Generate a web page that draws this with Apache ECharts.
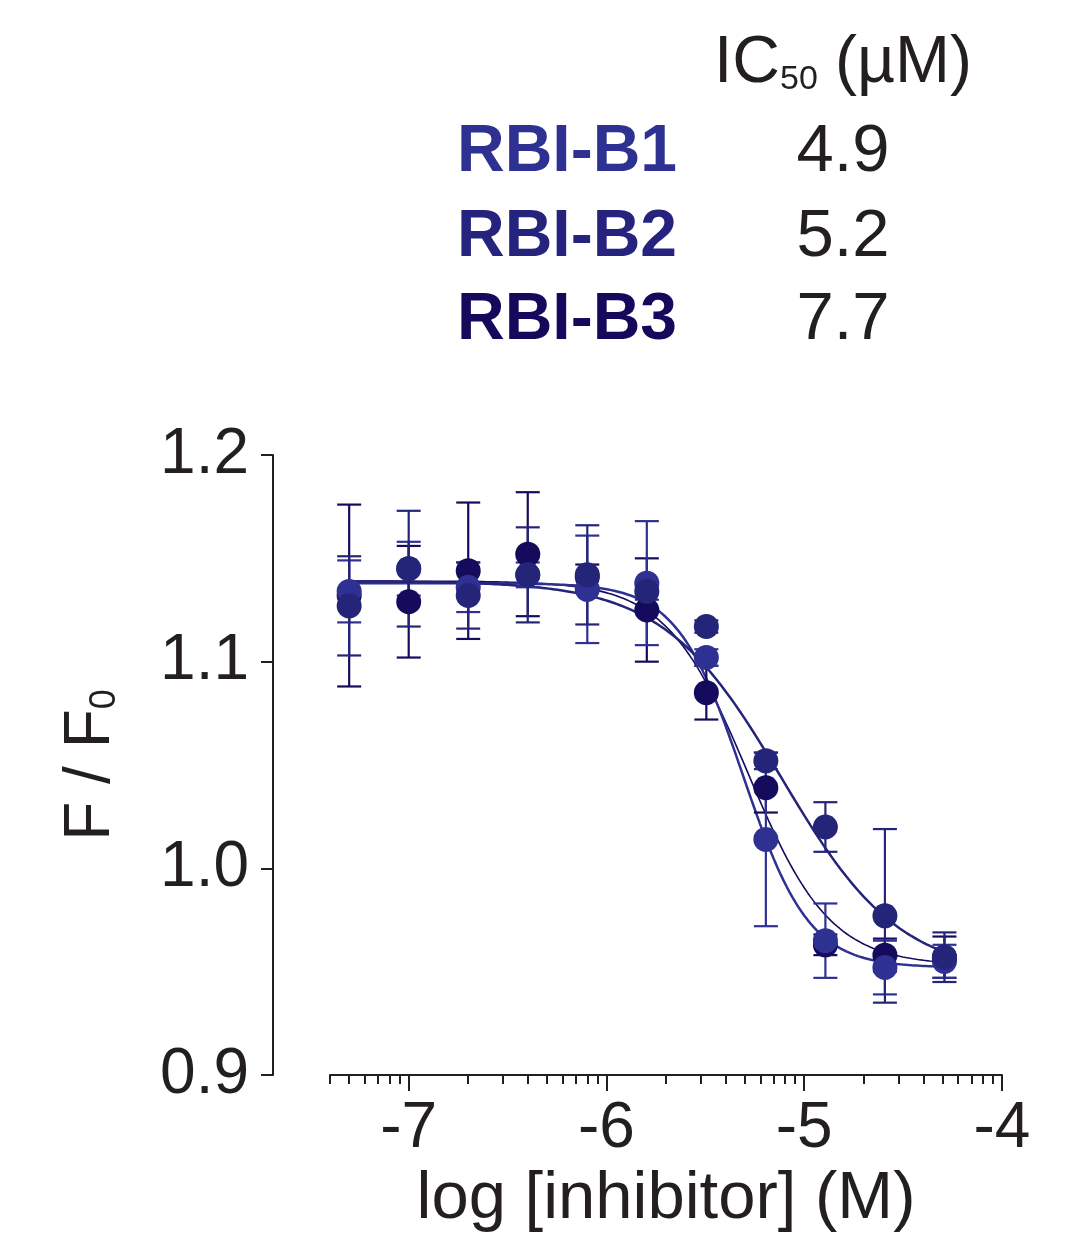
<!DOCTYPE html>
<html>
<head>
<meta charset="utf-8">
<script src="https://cdn.jsdelivr.net/npm/echarts@6/dist/echarts.min.js"></script>
<style>
  html, body { margin: 0; padding: 0; background: #fff; }
  #main { width: 1088px; height: 1233px; }
</style>
</head>
<body>
<div id="main"></div>
<script>
// log [inhibitor] (M), 2-fold dilution from 50 nM
var logConc = [-7.301, -7.000, -6.699, -6.398, -6.097, -5.796, -5.495, -5.194, -4.893, -4.592, -4.291];

var names = ['RBI-B1', 'RBI-B2', 'RBI-B3'];
var ic50 = [4.9, 5.2, 7.7]; // µM
var hill = [2.6, 2.1, 1.45];
var top_ = [1.138, 1.139, 1.139];
var bottom = [0.952, 0.953, 0.948];

// F / F0 means and SD
var b1Mean = [1.134, 1.145, 1.136, 1.142, 1.135, 1.138, 1.102, 1.014, 0.965, 0.952, 0.955];
var b1Sd   = [0.015, 0.013, 0.012, 0.006, 0.026, 0.030, 0.004, 0.042, 0.018, 0.013, 0.008];
var b2Mean = [1.132, 1.129, 1.144, 1.152, 1.141, 1.125, 1.085, 1.039, 0.963, 0.958, 0.957];
var b2Sd   = [0.044, 0.027, 0.033, 0.030, 0.006, 0.025, 0.013, 0.012, 0.005, 0.008, 0.010];
var b3Mean = [1.127, 1.145, 1.132, 1.142, 1.142, 1.134, 1.117, 1.052, 1.020, 0.977, 0.957];
var b3Sd   = [0.024, 0.028, 0.016, 0.023, 0.024, 0.004, 0.003, 0.004, 0.012, 0.042, 0.012];

var xTicks = [-7, -6, -5, -4];
var yTicks = [0.9, 1.0, 1.1, 1.2];

var pointColors = ['#2e3192', '#150b5c', '#242479'];
var labelColors = ['#2e3192', '#25237e', '#16085a'];
var lineWidths = [2.5, 1.6, 2.5];
var ink = '#231f20';
var font = '"Liberation Sans", Arial, Helvetica, sans-serif';

var means = [b1Mean, b2Mean, b3Mean];
var sds = [b1Sd, b2Sd, b3Sd];

var xMin = Math.log10(4e-8);
var xMax = -4;

// minor log ticks (2..9 x 10^n)
var minorTicks = [];
for (var d = -8; d <= -5; d++) {
  for (var k = 2; k <= 9; k++) {
    var v = d + Math.log10(k);
    if (v >= xMin - 1e-6 && v <= xMax) minorTicks.push(v);
  }
}

function fitCurve(i) {
  var logIc = Math.log10(ic50[i] * 1e-6);
  var pts = [];
  var a = logConc[0], b = logConc[logConc.length - 1];
  for (var j = 0; j <= 200; j++) {
    var x = a + (b - a) * j / 200;
    var y = bottom[i] + (top_[i] - bottom[i]) / (1 + Math.pow(10, (x - logIc) * hill[i]));
    pts.push([x, y]);
  }
  return pts;
}

var series = [];
var order = [1, 0, 2];
order.forEach(function (i) {
  series.push({
    name: names[i] + ' fit',
    type: 'line',
    data: fitCurve(i),
    showSymbol: false,
    silent: true,
    lineStyle: { color: pointColors[i], width: lineWidths[i] },
    z: 2
  });
});
order.forEach(function (i) {
  series.push({
    name: names[i] + ' sd',
    type: 'custom',
    data: logConc.map(function (x, j) { return [x, means[i][j] + sds[i][j], means[i][j] - sds[i][j]]; }),
    encode: { x: 0, y: [1, 2] },
    renderItem: function (params, api) {
      var hi = api.coord([api.value(0), api.value(1)]);
      var lo = api.coord([api.value(0), api.value(2)]);
      var w = 12;
      var st = { stroke: pointColors[i], lineWidth: 2.2 };
      return {
        type: 'group',
        children: [
          { type: 'line', shape: { x1: hi[0], y1: hi[1], x2: lo[0], y2: lo[1] }, style: st },
          { type: 'line', shape: { x1: hi[0] - w, y1: hi[1], x2: hi[0] + w, y2: hi[1] }, style: st },
          { type: 'line', shape: { x1: lo[0] - w, y1: lo[1], x2: lo[0] + w, y2: lo[1] }, style: st }
        ]
      };
    },
    z: 3
  });
  series.push({
    name: names[i],
    type: 'scatter',
    data: logConc.map(function (x, j) { return [x, means[i][j]]; }),
    symbol: 'circle',
    symbolSize: 25,
    itemStyle: { color: pointColors[i], opacity: 1 },
    z: 4
  });
});

// IC50 table above the plot
var graphics = [
  { type: 'text', x: 714, y: 64, style: { text: 'IC', font: '66px ' + font, fill: ink, textVerticalAlign: 'middle' } },
  { type: 'text', x: 780, y: 97, style: { text: '50', font: '34px ' + font, fill: ink, textVerticalAlign: 'bottom' } },
  { type: 'text', x: 835, y: 64, style: { text: '(µM)', font: '66px ' + font, fill: ink, textVerticalAlign: 'middle' } }
];
var rowY = [153, 238, 321];
names.forEach(function (n, i) {
  graphics.push({
    type: 'text',
    x: 457, y: rowY[i],
    style: { text: n, font: 'bold 66px ' + font, fill: labelColors[i], textVerticalAlign: 'middle', textAlign: 'left' }
  });
  graphics.push({
    type: 'text',
    x: 843, y: rowY[i],
    style: { text: ic50[i].toFixed(1), font: '67px ' + font, fill: ink, textVerticalAlign: 'middle', textAlign: 'center' }
  });
});

var chart = echarts.init(document.getElementById('main'));
chart.setOption({
  animation: false,
  backgroundColor: '#fff',
  textStyle: { fontFamily: font },
  grid: { left: 330, right: 86, top: 455, height: 620, outerBoundsMode: 'none' },
  xAxis: [{
    type: 'value',
    min: xMin,
    max: xMax,
    axisLine: { onZero: false, lineStyle: { color: ink, width: 2 } },
    axisTick: { customValues: xTicks, length: 16, lineStyle: { color: ink, width: 2 } },
    axisLabel: { customValues: xTicks, fontSize: 64, color: ink, margin: 22, formatter: function (v) { return String(v); } },
    splitLine: { show: false },
    name: 'log [inhibitor] (M)',
    nameLocation: 'middle',
    nameGap: 80,
    nameTextStyle: { fontSize: 67, color: ink, verticalAlign: 'top' }
  }, {
    type: 'value',
    position: 'bottom',
    min: xMin,
    max: xMax,
    axisLine: { show: false, onZero: false },
    axisTick: { customValues: minorTicks, length: 9, lineStyle: { color: ink, width: 2 } },
    axisLabel: { show: false },
    splitLine: { show: false }
  }],
  yAxis: {
    type: 'value',
    min: 0.9,
    max: 1.2,
    offset: 57,
    axisLine: { show: true, lineStyle: { color: ink, width: 2 } },
    axisTick: { show: true, customValues: yTicks, length: 12, lineStyle: { color: ink, width: 2 } },
    axisLabel: { customValues: yTicks, fontSize: 64, color: ink, margin: 24, formatter: function (v) { return v.toFixed(1); } },
    splitLine: { show: false },
    name: 'F / F{sub|0}',
    nameLocation: 'middle',
    nameRotate: 90,
    nameGap: 150,
    nameTextStyle: {
      fontSize: 64, color: ink,
      rich: { sub: { fontSize: 36, color: ink, verticalAlign: 'bottom' } }
    }
  },
  graphic: graphics,
  series: series
});
</script>
</body>
</html>
